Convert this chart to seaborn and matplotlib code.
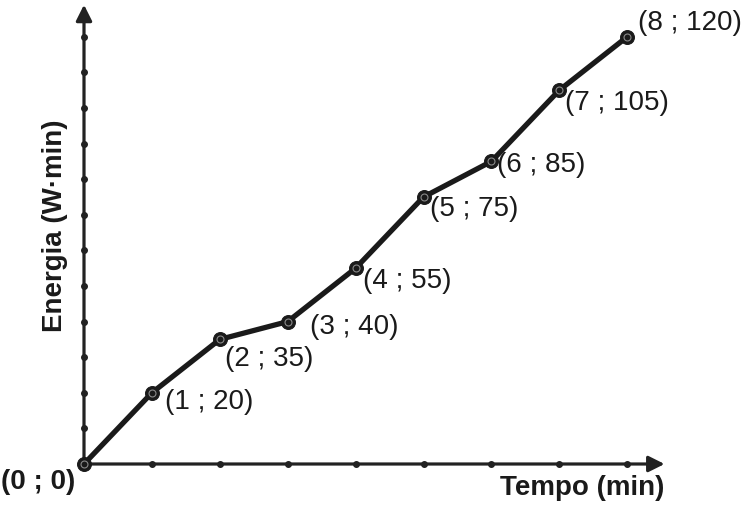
import matplotlib
matplotlib.use("Agg")
import matplotlib.pyplot as plt
import seaborn as sns
import pandas as pd

# ---- data ----
tempo = [0, 1, 2, 3, 4, 5, 6, 7, 8]
energia = [0, 20, 35, 40, 55, 75, 85, 105, 120]
x_ticks = [1, 2, 3, 4, 5, 6, 7, 8]
y_ticks = [10, 20, 30, 40, 50, 60, 70, 80, 90, 100, 110, 120]
x_label = "Tempo (min)"
y_label = "Energia (W·min)"

# label offsets (pixels) – layout only
label_offsets = [(-9, -18), (13, -9), (5, -20), (22, -5), (7, -13),
                 (7, -12), (6, -4), (6, -13), (11, 14)]

sns.set_style("white")
plt.rcParams["font.family"] = ["Liberation Sans", "DejaVu Sans"]

df = pd.DataFrame({"Tempo": tempo, "Energia": energia})

fig = plt.figure(figsize=(7.43, 5.08), dpi=100)
ax = fig.add_axes([84 / 743, 44 / 508, 67.9 * 9 / 743, 3.56 * 130 / 508])
ax.set_xlim(0, 9)
ax.set_ylim(0, 130)
ax.axis("off")

axis_col = "#222222"
# axes with arrows
ax.annotate("", xy=(8.55, 0), xytext=(0, 0), annotation_clip=False,
            arrowprops=dict(arrowstyle="-|>", lw=2.3, color=axis_col,
                            mutation_scale=24, shrinkA=0, shrinkB=0))
ax.annotate("", xy=(0, 129), xytext=(0, 0), annotation_clip=False,
            arrowprops=dict(arrowstyle="-|>", lw=2.3, color=axis_col,
                            mutation_scale=24, shrinkA=0, shrinkB=0))

# tick dots
ax.plot(x_ticks, [0] * len(x_ticks), "o", color=axis_col, ms=4, clip_on=False, zorder=3)
ax.plot([0] * len(y_ticks), y_ticks, "o", color=axis_col, ms=4, clip_on=False, zorder=3)

# main line
sns.lineplot(data=df, x="Tempo", y="Energia", ax=ax, color="#1a1a1a", lw=3.8,
             marker="o", markersize=10, markeredgecolor="#1a1a1a",
             markerfacecolor="#1a1a1a", clip_on=False, zorder=4, legend=False)
ax.plot(tempo, energia, "o", ms=5, mfc="none", mec="#8a8a8a", mew=0.8,
        clip_on=False, zorder=5)
ax.set_xlim(0, 9)
ax.set_ylim(0, 130)
ax.axis("off")

# point labels
for i, (t, e) in enumerate(zip(tempo, energia)):
    dx, dy = label_offsets[i]
    txt = f"({t} ; {e})"
    if i == 0:
        ax.annotate(txt, (t, e), xytext=(dx, dy), textcoords="offset pixels",
                    ha="right", va="center", fontsize=20, fontweight="bold",
                    color="#1a1a1a", annotation_clip=False)
    else:
        ax.annotate(txt, (t, e), xytext=(dx, dy), textcoords="offset pixels",
                    ha="left", va="center", fontsize=20, color="#1a1a1a",
                    annotation_clip=False)

fig.text(664 / 743, 1 - 488 / 508, x_label, ha="right", va="center",
         fontsize=20, fontweight="bold", color="#1a1a1a")
fig.text(55 / 743, 1 - 226 / 508, y_label, ha="center", va="center",
         rotation=90, fontsize=20, fontweight="bold", color="#1a1a1a")

fig.savefig("out.png", dpi=100)
